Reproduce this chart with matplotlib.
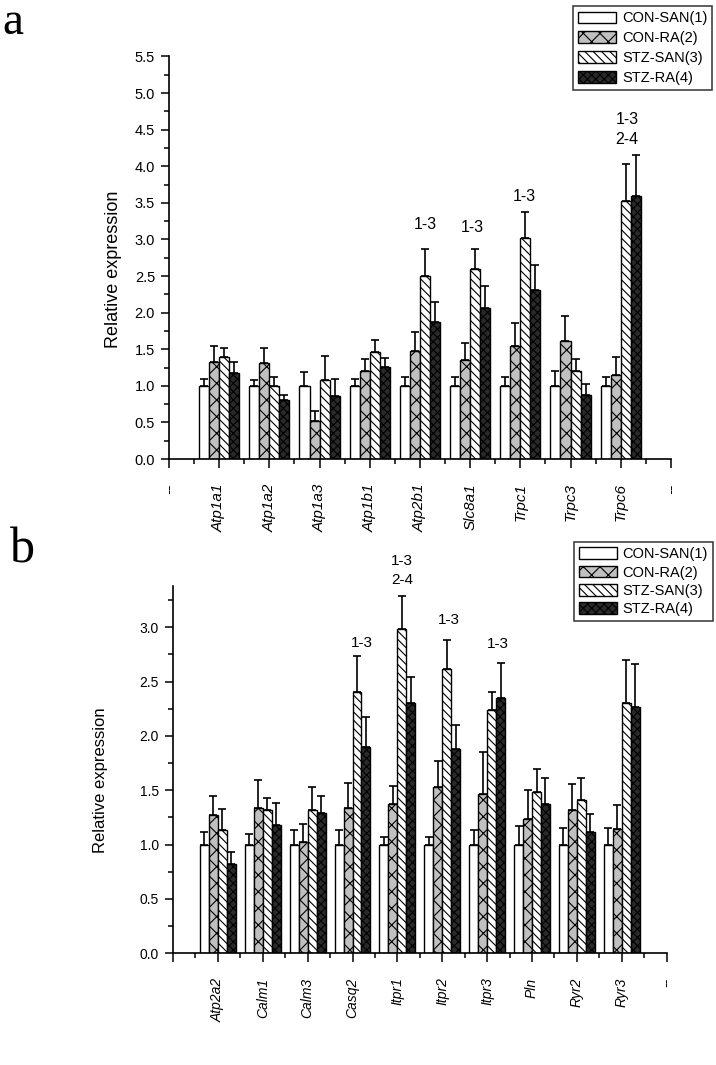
import numpy as np
import matplotlib
matplotlib.use('Agg')
import matplotlib.pyplot as plt
from matplotlib.ticker import MultipleLocator, FormatStrFormatter

plt.rcParams['font.family'] = ['Liberation Sans', 'DejaVu Sans']
plt.rcParams['hatch.linewidth'] = 0.8

# group names
groups = ['CON-SAN(1)', 'CON-RA(2)', 'STZ-SAN(3)', 'STZ-RA(4)']

# panel a data (mean and SE)
genes_a = ['Atp1a1', 'Atp1a2', 'Atp1a3', 'Atp1b1', 'Atp2b1', 'Slc8a1', 'Trpc1', 'Trpc3', 'Trpc6']
con_san_a = [1.00, 1.00, 1.00, 1.00, 1.00, 1.00, 1.00, 1.00, 1.00]
con_san_a_se = [0.09, 0.08, 0.19, 0.10, 0.12, 0.12, 0.12, 0.20, 0.12]
con_ra_a = [1.33, 1.31, 0.52, 1.20, 1.48, 1.35, 1.55, 1.61, 1.15]
con_ra_a_se = [0.21, 0.20, 0.14, 0.17, 0.26, 0.23, 0.31, 0.35, 0.25]
stz_san_a = [1.39, 1.00, 1.08, 1.46, 2.50, 2.59, 3.02, 1.20, 3.53]
stz_san_a_se = [0.12, 0.12, 0.33, 0.16, 0.37, 0.28, 0.35, 0.16, 0.50]
stz_ra_a = [1.18, 0.80, 0.86, 1.26, 1.87, 2.07, 2.31, 0.87, 3.60]
stz_ra_a_se = [0.14, 0.08, 0.23, 0.12, 0.28, 0.29, 0.34, 0.16, 0.56]
ann_a_x = [5.11, 6.05, 7.07, 9.13]
ann_a_y = [3.10, 3.06, 3.48, 4.26]
ann_a_text = ['1-3', '1-3', '1-3', '1-3\n2-4']

# panel b data (mean and SE)
genes_b = ['Atp2a2', 'Calm1', 'Calm3', 'Casq2', 'Itpr1', 'Itpr2', 'Itpr3', 'Pln', 'Ryr2', 'Ryr3']
con_san_b = [1.00, 1.00, 1.00, 1.00, 1.00, 1.00, 1.00, 1.00, 1.00, 1.00]
con_san_b_se = [0.12, 0.10, 0.13, 0.13, 0.07, 0.07, 0.13, 0.17, 0.15, 0.15]
con_ra_b = [1.27, 1.34, 1.02, 1.34, 1.37, 1.53, 1.47, 1.24, 1.32, 1.14]
con_ra_b_se = [0.18, 0.25, 0.17, 0.23, 0.17, 0.24, 0.38, 0.26, 0.24, 0.22]
stz_san_b = [1.13, 1.32, 1.32, 2.40, 2.98, 2.62, 2.24, 1.48, 1.41, 2.30]
stz_san_b_se = [0.20, 0.11, 0.21, 0.34, 0.31, 0.26, 0.16, 0.22, 0.20, 0.40]
stz_ra_b = [0.82, 1.18, 1.29, 1.90, 2.30, 1.88, 2.35, 1.37, 1.12, 2.27]
stz_ra_b_se = [0.11, 0.20, 0.16, 0.27, 0.24, 0.22, 0.32, 0.24, 0.16, 0.39]
ann_b_x = [4.21, 5.10, 6.15, 7.24]
ann_b_y = [2.79, 3.37, 3.00, 2.78]
ann_b_text = ['1-3', '1-3\n2-4', '1-3', '1-3']

# bar styles
faces = ['white', '#c0c0c0', 'white', '#2a2a2a']
hatches = ['', 'xx', '\\\\\\\\', 'xxxx']
offsets = [-0.3, -0.1, 0.1, 0.3]


def draw_panel(ax, genes, means, ses, ann_x, ann_y, ann_text, ymax, fs,
               xfs, first_label):
    x = np.arange(1, len(genes) + 1)
    for i in range(4):
        ax.bar(x + offsets[i], means[i], width=0.2, facecolor=faces[i],
               edgecolor='black', hatch=hatches[i], linewidth=1.0,
               label=groups[i], zorder=2)
        ax.errorbar(x + offsets[i], means[i],
                    yerr=[np.zeros(len(genes)), ses[i]], fmt='none',
                    ecolor='black', elinewidth=1.2, capsize=3, capthick=1.2,
                    zorder=3)
    for xa, ya, t in zip(ann_x, ann_y, ann_text):
        ax.text(xa, ya, t, ha='center', va='bottom', fontsize=fs + 1,
                linespacing=1.45)

    ax.set_xlim(0, len(genes) + 1)
    ax.set_ylim(0, ymax)
    ax.set_xticks(np.arange(0, len(genes) + 2))
    ax.set_xticklabels([first_label] + genes + ['--'], rotation=90,
                       fontsize=xfs, style='italic', va='top')
    ax.xaxis.set_minor_locator(MultipleLocator(0.5))
    ax.yaxis.set_major_locator(MultipleLocator(0.5))
    ax.yaxis.set_minor_locator(MultipleLocator(0.25))
    ax.yaxis.set_major_formatter(FormatStrFormatter('%.1f'))
    ax.tick_params(axis='y', which='major', length=6, width=1.1,
                   labelsize=fs, pad=4)
    ax.tick_params(axis='y', which='minor', length=3.5, width=1.1)
    ax.tick_params(axis='x', which='major', length=6.5, width=1.1, pad=11)
    ax.tick_params(axis='x', which='minor', length=3.5, width=1.1)
    ax.spines['top'].set_visible(False)
    ax.spines['right'].set_visible(False)
    ax.spines['left'].set_linewidth(1.2)
    ax.spines['bottom'].set_linewidth(1.2)


fig = plt.figure(figsize=(7.16, 10.65), dpi=100)

# panel a
ax_a = fig.add_axes([0.236, 0.569, 0.701, 0.378])
draw_panel(ax_a, genes_a,
           [con_san_a, con_ra_a, stz_san_a, stz_ra_a],
           [con_san_a_se, con_ra_a_se, stz_san_a_se, stz_ra_a_se],
           ann_a_x, ann_a_y, ann_a_text, 5.5, 10.5, 11, '--')
ax_a.set_ylabel('Relative expression', fontsize=13)
ax_a.yaxis.set_label_coords(-0.094, 0.47)
h, l = ax_a.get_legend_handles_labels()
leg_a = fig.legend(h, l, loc='upper right', bbox_to_anchor=(0.995, 0.994),
                   fontsize=10.5, frameon=True, fancybox=False,
                   edgecolor='black', handlelength=2.6, handleheight=0.85,
                   handletextpad=0.4, labelspacing=0.4, borderpad=0.35,
                   borderaxespad=0)
leg_a.get_frame().set_linewidth(1.1)

# panel b
ax_b = fig.add_axes([0.2416, 0.1049, 0.6895, 0.3449])
draw_panel(ax_b, genes_b,
           [con_san_b, con_ra_b, stz_san_b, stz_ra_b],
           [con_san_b_se, con_ra_b_se, stz_san_b_se, stz_ra_b_se],
           ann_b_x, ann_b_y, ann_b_text, 3.38, 10, 10, '')
ax_b.set_ylabel('Relative expression', fontsize=12)
ax_b.yaxis.set_label_coords(-0.132, 0.472)
h, l = ax_b.get_legend_handles_labels()
leg_b = fig.legend(h, l, loc='upper right', bbox_to_anchor=(0.996, 0.491),
                   fontsize=10.5, frameon=True, fancybox=False,
                   edgecolor='black', handlelength=2.6, handleheight=0.85,
                   handletextpad=0.4, labelspacing=0.3, borderpad=0.35,
                   borderaxespad=0)
leg_b.get_frame().set_linewidth(1.1)

# panel letters
fig.text(0.003, 0.9681, 'a', fontsize=34, family='Liberation Serif')
fig.text(0.014, 0.4714, 'b', fontsize=36, family='Liberation Serif')

fig.savefig('out.png', dpi=100)
